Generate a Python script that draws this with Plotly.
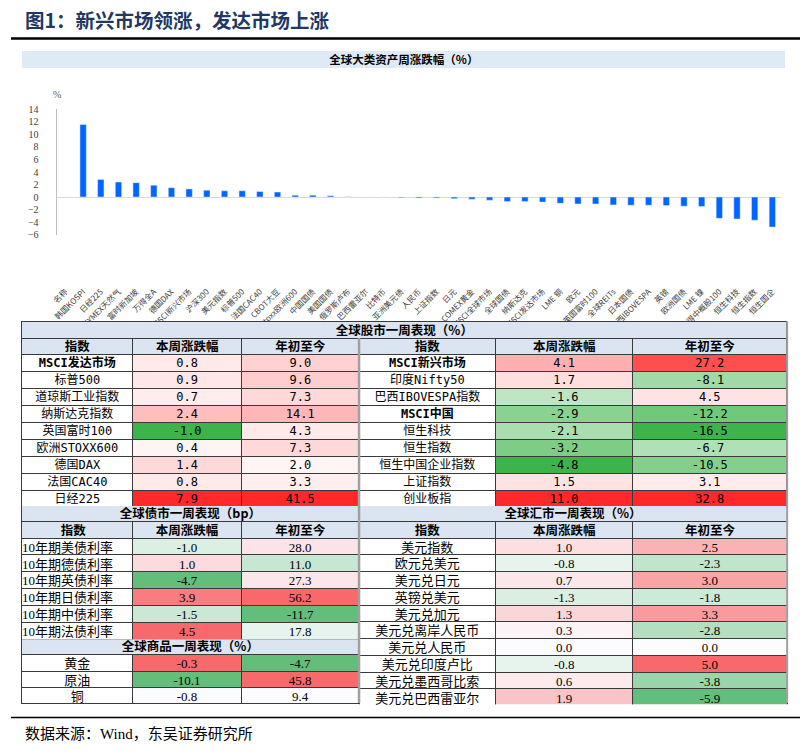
import plotly.graph_objects as go

W, H = 805, 755

# ---------------- data ----------------
bar_categories = ["名称", "韩国KOSPI", "日经225", "NYMEX天然气", "富时新加坡", "万得全A", "德国DAX",
                  "MSCI新兴市场", "沪深300", "美元指数", "标普500", "法国CAC40", "CBOT大豆", "Stoxx欧洲600",
                  "中国国债", "美国国债", "俄罗斯卢布", "巴西雷亚尔", "比特币", "亚洲美元债", "人民币",
                  "上证指数", "日元", "COMEX黄金", "MSCI全球市场", "全球国债", "纳斯达克", "MSCI发达市场",
                  "LME 铜", "欧元", "英国富时100", "全球REITs", "日本国债", "巴西IBOVESPA", "英镑",
                  "欧洲国债", "LME 镍", "万得中概股100", "恒生科技", "恒生指数", "恒生国企"]
bar_values = [None, 11.6, 2.8, 2.4, 2.3, 1.9, 1.5, 1.3, 1.1, 1.0, 1.0, 0.9, 0.8, 0.3,
              0.3, 0.2, 0.05, 0.03, 0.0, -0.1, -0.15, -0.15, -0.25, -0.35, -0.5, -0.7, -0.7, -0.8,
              -1.0, -1.1, -1.1, -1.25, -1.3, -1.3, -1.35, -1.45, -1.5, -3.4, -3.5, -3.7, -4.8]

col_headers = ["指数", "本周涨跌幅", "年初至今"]

stock_left_names = ["MSCI发达市场", "标普500", "道琼斯工业指数", "纳斯达克指数", "英国富时100",
                    "欧洲STOXX600", "德国DAX", "法国CAC40", "日经225"]
stock_left_week = [0.8, 0.9, 0.7, 2.4, -1.0, 0.4, 1.4, 0.8, 7.9]
stock_left_ytd = [9.0, 9.6, 7.3, 14.1, 4.3, 7.3, 2.0, 3.3, 41.5]
stock_right_names = ["MSCI新兴市场", "印度Nifty50", "巴西IBOVESPA指数", "MSCI中国", "恒生科技",
                     "恒生指数", "恒生中国企业指数", "上证指数", "创业板指"]
stock_right_week = [4.1, 1.7, -1.6, -2.9, -2.1, -3.2, -4.8, 1.5, 11.0]
stock_right_ytd = [27.2, -8.1, 4.5, -12.2, -16.5, -6.7, -10.5, 3.1, 32.8]
stock_bold = ["MSCI发达市场", "MSCI新兴市场", "MSCI中国"]

bond_names = ["10年期美债利率", "10年期德债利率", "10年期英债利率", "10年期日债利率",
              "10年期中债利率", "10年期法债利率"]
bond_week = [-1.0, 1.0, -4.7, 3.9, -1.5, 4.5]
bond_ytd = [28.0, 11.0, 27.3, 56.2, -11.7, 17.8]

comm_names = ["黄金", "原油", "铜"]
comm_week = [-0.3, -10.1, -0.8]
comm_ytd = [-4.7, 45.8, 9.4]

fx_names = ["美元指数", "欧元兑美元", "美元兑日元", "英镑兑美元", "美元兑加元", "美元兑离岸人民币",
            "美元兑人民币", "美元兑印度卢比", "美元兑墨西哥比索", "美元兑巴西雷亚尔"]
fx_week = [1.0, -0.8, 0.7, -1.3, 1.3, 0.3, 0.0, -0.8, 0.6, 1.9]
fx_ytd = [2.5, -2.3, 3.0, -1.8, 3.3, -2.8, 0.0, 5.0, -3.8, -5.9]

title_text = "图1：新兴市场领涨，发达市场上涨"
chart_title = "全球大类资产周涨跌幅（%）"
stock_title = "全球股市一周表现（%）"
bond_title = "全球债市一周表现（bp）"
comm_title = "全球商品一周表现（%）"
fx_title = "全球汇市一周表现（%）"
source_text = "数据来源：Wind，东吴证券研究所"

# ---------------- styles ----------------
CJK = "Noto Sans CJK SC"
MONO = "DejaVu Sans Mono, Noto Sans CJK SC"
SERIF = "Liberation Serif, Noto Sans CJK SC"
HEAD_FILL = "#dbe5f1"
LINE = "#3a3a3a"
CLEAR = "rgba(0,0,0,0)"
SHIFT = 4.2   # plotly tables draw text 8px below the row top; lift the text layer to centre it

S_RED, S_WHITE, S_GREEN = (255, 41, 41), (255, 255, 255), (61, 180, 75)
E_RED, E_WHITE, E_GREEN = (248, 105, 107), (252, 252, 255), (99, 190, 123)


def median(v):
    s = sorted(v)
    n = len(s)
    return s[n // 2] if n % 2 else (s[n // 2 - 1] + s[n // 2]) / 2


def scale(vals, lo, mid, hi, red, white, green):
    out = []
    for v in vals:
        if v >= mid:
            t = 0 if hi == mid else (v - mid) / (hi - mid)
            c = [w + (r - w) * t for w, r in zip(white, red)]
        else:
            t = (mid - v) / (mid - lo)
            c = [w + (g - w) * t for w, g in zip(white, green)]
        out.append("rgb(%d,%d,%d)" % tuple(round(x) for x in c))
    return out


def stock_scale(v):
    return scale(v, min(v), 0, max(v), S_RED, S_WHITE, S_GREEN)


def excel_scale(v, mid=None, lo=None, hi=None):
    return scale(v, min(v) if lo is None else lo, median(v) if mid is None else mid,
                 max(v) if hi is None else hi, E_RED, E_WHITE, E_GREEN)


def fmt(v):
    return ["%.1f" % x for x in v]


def px(x):
    return x / W


def py(y):
    return 1 - y / H


fig = go.Figure()

# ---------------- bar chart ----------------
fig.add_trace(go.Bar(x=bar_categories, y=bar_values, marker_color="#0066ff", width=0.36,
                     showlegend=False, hoverinfo="x+y"))


def text_layer(x0, x1, y0, total, widths, header, header_font, header_h, cells, cell_font, row_h,
               align, text_dx):
    tw = list(widths)
    tw[0] = tw[0] + text_dx
    fig.add_trace(go.Table(
        domain=dict(x=[px(x0 - text_dx), px(x1)], y=[py(y0 - SHIFT + total + 12), py(y0 - SHIFT)]),
        columnwidth=tw,
        header=dict(values=header, fill_color=CLEAR, height=header_h,
                    line=dict(color=CLEAR, width=0), align="center", font=header_font),
        cells=dict(values=cells, fill_color=CLEAR, height=row_h,
                   line=dict(color=CLEAR, width=0), align=align, font=cell_font)))


def add_block(x0, x1, y0, widths, header, header_fill, header_font, header_h,
              cells, cell_fill, cell_font, row_h, align="center", line=LINE, text_dx=0,
              bold_cells=None):
    n = len(widths)
    n_rows = len(cells[0])
    total = header_h + row_h * n_rows
    # fills and grid lines
    fig.add_trace(go.Table(
        domain=dict(x=[px(x0), px(x1)], y=[py(y0 + total + 2), py(y0)]),
        columnwidth=widths,
        header=dict(values=[""] * n, fill_color=header_fill, height=header_h,
                    line=dict(color=line, width=1)),
        cells=dict(values=[[""] * n_rows for _ in range(n)], fill_color=cell_fill, height=row_h,
                   line=dict(color=line, width=1))))
    # text layer(s), lifted so the text sits in the middle of each row
    text_layer(x0, x1, y0, total, widths, header, header_font, header_h, cells, cell_font,
               row_h, align, text_dx)
    if bold_cells is not None:
        bf = dict(cell_font)
        bf["weight"] = "bold"
        text_layer(x0, x1, y0, total, widths, [""] * n, header_font, header_h, bold_cells, bf,
                   row_h, align, text_dx)


HEAD_FONT = dict(family=CJK, size=12.5, color="black", weight="bold")


def title_block(text, x0, x1, y0, h, fill=HEAD_FILL, line=LINE, size=12.5):
    add_block(x0, x1, y0, [1], [text], fill, dict(family=CJK, size=size, color="black", weight="bold"),
              h, [[""]], CLEAR, dict(family=CJK, size=2, color=CLEAR), 1, line=line)


# title rows (drawn first, data blocks cover their tiny dummy row)
title_block(chart_title, 17, 785, 47, 15.5, fill="#deebf7", line="#deebf7", size=11.5)
title_block(stock_title, 16, 787, 321, 17)
title_block(bond_title, 16, 355.7, 507.3, 16.7)
title_block(fx_title, 355.7, 787, 507.3, 16.7)
title_block(comm_title, 16, 355.7, 642, 17.3)


# ---------------- stock table ----------------
def plain(names):
    return ["" if nm in stock_bold else nm for nm in names]


def boldonly(names):
    return [nm if nm in stock_bold else "" for nm in names]


nrow = len(stock_left_names)
blank = [""] * nrow
add_block(16, 787, 338, [111.7, 109.6, 118.4, 137.6, 138, 155.4],
          col_headers * 2, HEAD_FILL, HEAD_FONT, 16.3,
          [plain(stock_left_names), fmt(stock_left_week), fmt(stock_left_ytd),
           plain(stock_right_names), fmt(stock_right_week), fmt(stock_right_ytd)],
          ["white", stock_scale(stock_left_week), stock_scale(stock_left_ytd),
           "white", stock_scale(stock_right_week), stock_scale(stock_right_ytd)],
          dict(family=MONO, size=12, color="black"), 17,
          bold_cells=[boldonly(stock_left_names), blank, blank,
                      boldonly(stock_right_names), blank, blank])

# ---------------- bond table ----------------
add_block(16, 355.7, 524, [111.7, 109.6, 118.4], col_headers, HEAD_FILL, HEAD_FONT, 16.7,
          [bond_names, fmt(bond_week), fmt(bond_ytd)],
          ["white", excel_scale(bond_week), excel_scale(bond_ytd)],
          dict(family=SERIF, size=13, color="black"), 16.9,
          align=["left", "center", "center"], text_dx=8)

# ---------------- commodity table (no column header: first item fills the header row) ----------------
cw, cy = excel_scale(comm_week), excel_scale(comm_ytd)
cwt, cyt = fmt(comm_week), fmt(comm_ytd)
add_block(16, 355.7, 659.3, [111.7, 109.6, 118.4],
          [comm_names[0], cwt[0], cyt[0]], ["white", cw[0], cy[0]],
          dict(family=SERIF, size=13, color="black"), 16.33,
          [comm_names[1:], cwt[1:], cyt[1:]], ["white", cw[1:], cy[1:]],
          dict(family=SERIF, size=13, color="black"), 16.33)

# ---------------- fx table ----------------
fx_all = fx_week + fx_ytd
fx_lo, fx_hi = min(fx_all), max(fx_all)
add_block(355.7, 787, 524, [137.6, 138, 155.4], col_headers, HEAD_FILL, HEAD_FONT, 16.7,
          [fx_names, fmt(fx_week), fmt(fx_ytd)],
          ["white", excel_scale(fx_week, 0, fx_lo, fx_hi), excel_scale(fx_ytd, 0, fx_lo, fx_hi)],
          dict(family=SERIF, size=13, color="black"), 16.76)

# ---------------- layout ----------------
fig.update_layout(
    width=W, height=H, margin=dict(l=0, r=0, t=0, b=0),
    paper_bgcolor="white", plot_bgcolor="white",
    xaxis=dict(domain=[px(51), px(781)], type="category", tickangle=-45, showline=False,
               showgrid=False, ticks="", ticklabelstandoff=50,
               tickfont=dict(family=CJK, size=8, color="#404040")),
    yaxis=dict(domain=[py(233), py(106)], range=[-6, 14], dtick=2, showgrid=False,
               showline=True, linecolor="#bfbfbf", linewidth=1, ticks="",
               zeroline=True, zerolinecolor="#d9d9d9", zerolinewidth=1,
               ticklabelstandoff=15,
               tickfont=dict(family="Liberation Serif", size=10, color="#404040")),
    shapes=[
        dict(type="line", xref="paper", yref="paper", x0=px(5), x1=px(800), y0=py(34), y1=py(34),
             line=dict(color="black", width=2.5)),
        dict(type="line", xref="paper", yref="paper", x0=px(5), x1=px(800), y0=py(723), y1=py(723),
             line=dict(color="black", width=1.5)),
        dict(type="line", xref="paper", yref="paper", x0=px(355.7), x1=px(355.7),
             y0=py(338), y1=py(708.3), line=dict(color="#a0a0a0", width=2.5)),
        dict(type="line", xref="paper", yref="paper", x0=px(787), x1=px(787),
             y0=py(321), y1=py(708.3), line=dict(color="#a0a0a0", width=2)),
    ],
    annotations=[
        dict(text="<b>%s</b>" % title_text, xref="paper", yref="paper", x=px(17), y=py(15),
             xanchor="left", yanchor="middle", showarrow=False,
             font=dict(family=CJK, size=19.5, color="#1f3864")),
        dict(text="%", xref="paper", yref="paper", x=px(51), y=py(91), xanchor="center",
             yanchor="middle", showarrow=False,
             font=dict(family="Liberation Serif", size=10, color="#595959")),
        dict(text=source_text, xref="paper", yref="paper", x=px(17), y=py(740),
             xanchor="left", yanchor="middle", showarrow=False,
             font=dict(family=SERIF, size=15, color="black")),
    ],
)

fig.write_html("out.html")
